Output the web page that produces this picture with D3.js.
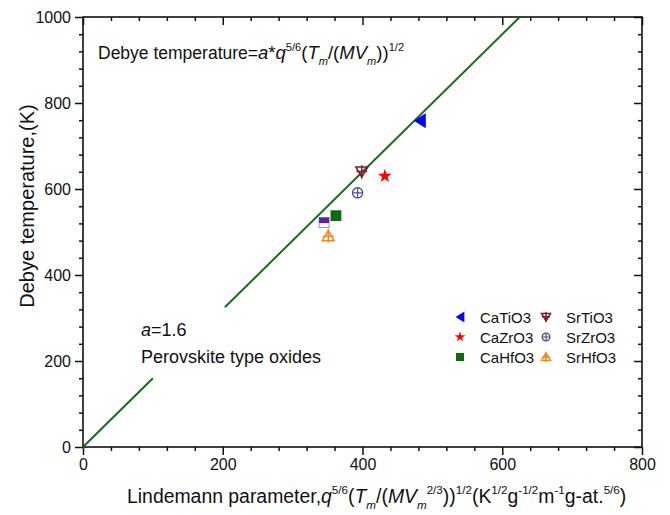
<!DOCTYPE html>
<style>
body { margin: 0; background: #fff; }
text { font-family: "Liberation Sans", Arial, sans-serif; fill: #111; }
.axis .domain { display: none; }
.axis line { stroke: #111; stroke-width: 1.5; }
</style>
<svg width="670" height="515"></svg>
<script src="https://d3js.org/d3.v7.min.js"></script>
<script>

// data
var compounds = ["CaTiO3", "CaZrO3", "CaHfO3", "SrTiO3", "SrZrO3", "SrHfO3"];
var lindemann = [482, 432, 362, 399, 393, 351];
var debyeT    = [759, 630, 538, 640, 591, 491];
var markers   = ["triLeft", "star", "square", "triDownCross", "circlePlus", "triUpCross"];
var colors    = ["#0000ff", "#ff0000", "#0b6b12", "#7a1f2a", "#4d4d8f", "#f28a10"];

// extra point without legend entry (purple half-filled square)
var extraX = [345];
var extraY = [522];

// fitted line a*q..., drawn as two segments (gap behind the note)
var fitX = [[0, 100], [203, 625]];
var fitY = [[0, 160], [325, 1000]];

var xMajor = [0, 200, 400, 600, 800];
var yMajor = [0, 200, 400, 600, 800, 1000];
var xMinor = d3.range(0, 801, 40).filter(function(v) { return v % 200; });
var yMinor = d3.range(0, 1001, 40).filter(function(v) { return v % 200; });

var svg = d3.select("svg");
var pLeft = 83, pRight = 642, pTop = 17, pBottom = 447;

var x = d3.scaleLinear().domain([0, 800]).range([pLeft, pRight]);
var y = d3.scaleLinear().domain([0, 1000]).range([pBottom, pTop]);

function addAxis(axis, tr, vals, size, labels) {
  var a = axis.tickValues(vals).tickSize(size).tickPadding(4)
      .tickFormat(labels ? d3.format("d") : "");
  var g = svg.append("g").attr("class", "axis")
      .attr("transform", tr)
      .call(a);
  g.attr("font-size", 16).attr("font-family", null);
  g.selectAll("text").attr("fill", "#111");
}

addAxis(d3.axisBottom(x), "translate(0," + pBottom + ")", xMajor, 8, true);
addAxis(d3.axisBottom(x), "translate(0," + pBottom + ")", xMinor, 4, false);
addAxis(d3.axisLeft(y), "translate(" + pLeft + ",0)", yMajor, 8, true);
addAxis(d3.axisLeft(y), "translate(" + pLeft + ",0)", yMinor, 4, false);
addAxis(d3.axisTop(x), "translate(0," + pTop + ")", xMajor, -8, false);
addAxis(d3.axisTop(x), "translate(0," + pTop + ")", xMinor, -4, false);
addAxis(d3.axisRight(y), "translate(" + pRight + ",0)", yMajor, -8, false);
addAxis(d3.axisRight(y), "translate(" + pRight + ",0)", yMinor, -4, false);

svg.append("rect")
    .attr("x", pLeft).attr("y", pTop)
    .attr("width", pRight - pLeft).attr("height", pBottom - pTop)
    .attr("fill", "none").attr("stroke", "#111").attr("stroke-width", 1.6);

// fit line
var line = d3.line().x(function(d) { return x(d[0]); }).y(function(d) { return y(d[1]); });
fitX.forEach(function(seg, i) {
  svg.append("path")
      .attr("d", line([[seg[0], fitY[i][0]], [seg[1], fitY[i][1]]]))
      .attr("fill", "none")
      .attr("stroke", "#17691c")
      .attr("stroke-width", 2);
});

// marker drawing
function drawMarker(g, type, color, s) {
  var h = s / 2;
  if (type == "triLeft") {
    g.append("path").attr("d", "M" + (-h * 0.8) + ",0L" + (h * 0.8) + "," + (-h) + "L" + (h * 0.8) + "," + h + "Z")
        .attr("fill", color);
  } else if (type == "star") {
    g.append("path").attr("d", d3.symbol(d3.symbolStar, s * s * 0.42)()).attr("fill", color);
  } else if (type == "square") {
    g.append("rect").attr("x", -h * 0.9).attr("y", -h * 0.9).attr("width", s * 0.9).attr("height", s * 0.9)
        .attr("fill", color);
  } else if (type == "circlePlus") {
    g.append("circle").attr("r", h * 0.85).attr("fill", "none").attr("stroke", color).attr("stroke-width", 1.3);
    g.append("path").attr("d", "M" + (-h * 0.85) + ",0H" + (h * 0.85) + "M0," + (-h * 0.85) + "V" + (h * 0.85))
        .attr("stroke", color).attr("stroke-width", 1.2);
  } else if (type == "triDownCross" || type == "triUpCross") {
    var k = type == "triUpCross" ? 1 : -1;
    g.append("path")
        .attr("d", "M0," + (-k * h * 0.9) + "L" + h + "," + (k * h * 0.8) + "L" + (-h) + "," + (k * h * 0.8) + "Z" +
                   "M0," + (-k * h * 1.15) + "V" + (k * h * 1.1) +
                   "M" + (-h * 0.9) + "," + (k * h * 0.05) + "H" + (h * 0.9))
        .attr("fill", "none").attr("stroke", color).attr("stroke-width", 1.5);
  }
}

compounds.forEach(function(c, i) {
  var g = svg.append("g").attr("transform", "translate(" + x(lindemann[i]) + "," + y(debyeT[i]) + ")");
  drawMarker(g, markers[i], colors[i], markers[i] == "triLeft" ? 15 : 12);
});

extraX.forEach(function(v, i) {
  var g = svg.append("g").attr("transform", "translate(" + x(v) + "," + y(extraY[i]) + ")");
  g.append("rect").attr("x", -5).attr("y", -5).attr("width", 10).attr("height", 10)
      .attr("fill", "#fff").attr("stroke", "#a486e0").attr("stroke-width", 1);
  g.append("rect").attr("x", -5).attr("y", -5).attr("width", 10).attr("height", 5.5)
      .attr("fill", "#5a1fae");
});

// legend
var legend = svg.append("g").attr("font-size", 15);
compounds.forEach(function(c, i) {
  var col = Math.floor(i / 3), row = i % 3;
  var lg = legend.append("g")
      .attr("transform", "translate(" + (460 + col * 86) + "," + (317 + row * 20) + ")");
  drawMarker(lg.append("g"), markers[i], colors[i], markers[i] == "triLeft" ? 11 : 9);
  lg.append("text").attr("x", 20).attr("y", 5.5).text(c);
});

// rich text helper
function richText(t, parts, size) {
  var cur = 0;
  parts.forEach(function(p) {
    var kind = p[1], target = 0, fs = p[2] || size;
    if (kind.indexOf("sup") >= 0) { target = -0.45 * fs; fs = fs * 0.6; }
    if (kind.indexOf("sub") >= 0) { target = 0.32 * fs; fs = fs * 0.6; }
    var ts = t.append("tspan").attr("dy", target - cur).attr("font-size", fs).text(p[0]);
    if (kind == "i" || kind == "isub") ts.attr("font-style", "italic");
    cur = target;
  });
}

richText(svg.append("text").attr("x", 98).attr("y", 59), [
  ["Debye temperature=", ""], ["a", "i", 18.5], ["*", "", 18.5], ["q", "i", 18.5], ["5/6", "sup", 18.5],
  ["(", "", 18.5], ["T", "i", 18.5], ["m", "isub", 18.5], ["/(", "", 18.5], ["MV", "i", 18.5], ["m", "isub", 18.5],
  ["))", "", 18.5], ["1/2", "sup", 18.5]
], 17.5);

richText(svg.append("text").attr("x", 141).attr("y", 336), [["a", "i"], ["=1.6", ""]], 18);
svg.append("text").attr("x", 141).attr("y", 363).attr("font-size", 18).text("Perovskite type oxides");

richText(svg.append("text").attr("x", 127).attr("y", 503), [
  ["Lindemann parameter,", ""], ["q", "i"], ["5/6", "sup"], ["(", ""], ["T", "i"], ["m", "isub"],
  ["/(", ""], ["MV", "i"], ["m", "isub"], ["2/3", "sup"], ["))", ""], ["1/2", "sup"],
  ["(K", ""], ["1/2", "sup"], ["g", ""], ["-1/2", "sup"], ["m", ""], ["-1", "sup"],
  ["g-at.", ""], ["5/6", "sup"], [")", ""]
], 19.4);

svg.append("text")
    .attr("transform", "translate(34,206) rotate(-90)")
    .attr("text-anchor", "middle")
    .attr("font-size", 20)
    .text("Debye temperature,(K)");

</script>
